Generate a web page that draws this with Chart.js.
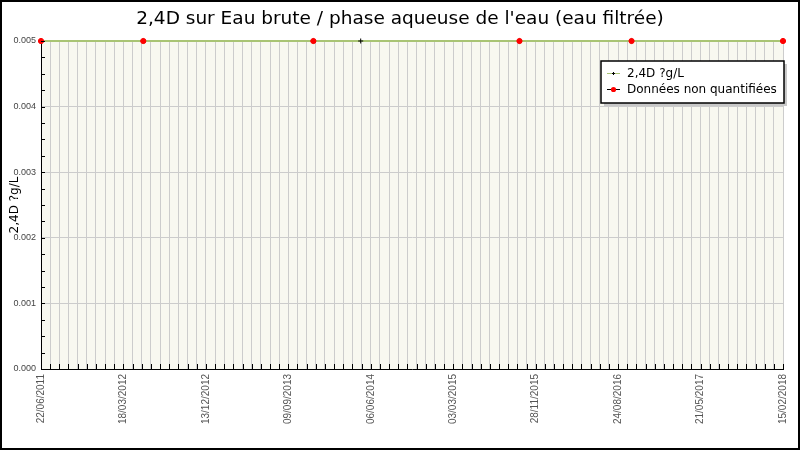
<!DOCTYPE html>
<html><head><meta charset="utf-8">
<script src="https://cdn.jsdelivr.net/npm/chart.js@4.4.1/dist/chart.umd.min.js"></script>
<style>html,body{margin:0;padding:0;background:#fff}canvas{display:block}</style>
</head><body><canvas id="c" width="800" height="450"></canvas>
<script>
const titleText = "2,4D sur Eau brute / phase aqueuse de l'eau (eau filtrée)";
const yAxisTitle = "2,4D ?g/L";
const seriesLabels = ["2,4D ?g/L", "Données non quantifiées"];
const sampleDates = ["2011-06-22","2012-05-22","2013-11-30","2014-05-04","2015-10-06","2016-10-07","2018-02-15"];
const sampleValues = [0.005,0.005,0.005,0.005,0.005,0.005,0.005];
const nqDates = ["2011-06-22","2012-05-22","2013-11-30","2015-10-06","2016-10-07","2018-02-15"];
const nqValues = [0.005,0.005,0.005,0.005,0.005,0.005];
const xStart = "2011-06-22";
const xEnd = "2018-02-15";
const xLabelStepDays = 270;
const xGridStepDays = 30;
const yMin = 0, yMax = 0.005, yStep = 0.001, yMinorStep = 0.00025;

const DAY = 86400000;
const toMs = s => { const [y,m,d] = s.split('-').map(Number); return Date.UTC(y, m-1, d); };
const fmt = ms => { const d = new Date(ms); return String(d.getUTCDate()).padStart(2,'0') + '/' + String(d.getUTCMonth()+1).padStart(2,'0') + '/' + d.getUTCFullYear(); };
const x0 = toMs(xStart), x1 = toMs(xEnd);

const LINE_GREEN = '#a9c474';

const decor = {
  id: 'decor',
  beforeDraw(chart) {
    const {ctx, chartArea: a} = chart;
    ctx.save();
    ctx.fillStyle = '#fff';
    ctx.fillRect(0, 0, chart.width, chart.height);
    ctx.fillStyle = '#f8f8f0';
    ctx.fillRect(a.left, a.top, a.right - a.left, a.bottom - a.top);
    ctx.restore();
  },
  afterDraw(chart) {
    const {ctx, chartArea: a, scales} = chart;
    const xs = scales.x, ys = scales.y;
    ctx.save();
    // title
    ctx.fillStyle = '#000';
    ctx.font = '18.5px "DejaVu Sans"';
    ctx.textAlign = 'center';
    ctx.textBaseline = 'middle';
    ctx.fillText(titleText, 400, 19);

    ctx.strokeStyle = '#000';
    ctx.lineWidth = 1;
    ctx.beginPath();
    xs.ticks.forEach(t => {
      const px = Math.round(xs.getPixelForValue(t.value)) + 0.5;
      ctx.moveTo(px, a.bottom); ctx.lineTo(px, a.bottom - 5);
    });
    for (let v = yMin; v <= yMax + 1e-9; v += yMinorStep) {
      const py = Math.round(ys.getPixelForValue(v)) + 0.5;
      ctx.moveTo(a.left, py); ctx.lineTo(a.left + 4, py);
    }
    ctx.stroke();

    // legend
    const lx = 601, ly = 61, lw = 183, lh = 42;
    ctx.fillStyle = '#c8c8c8';
    ctx.fillRect(lx + 3, ly + 3, lw, lh);
    ctx.fillStyle = '#fff';
    ctx.fillRect(lx, ly, lw, lh);
    ctx.strokeStyle = '#000';
    ctx.lineWidth = 1.5;
    ctx.strokeRect(lx, ly, lw, lh);
    ctx.font = '12px "DejaVu Sans"';
    ctx.textBaseline = 'middle';
    ctx.textAlign = 'left';
    const rows = [
      {y: 73, line: LINE_GREEN, label: chart.data.datasets[0].label, marker: 'cross'},
      {y: 89, line: '#000', label: chart.data.datasets[1].label, marker: 'dot'}
    ];
    rows.forEach(r => {
      ctx.strokeStyle = r.line; ctx.lineWidth = 1;
      ctx.beginPath(); ctx.moveTo(607, r.y + 0.5); ctx.lineTo(620, r.y + 0.5); ctx.stroke();
      if (r.marker === 'cross') {
        ctx.strokeStyle = '#000'; ctx.beginPath();
        ctx.moveTo(612, r.y + 0.5); ctx.lineTo(615, r.y + 0.5);
        ctx.moveTo(613.5, r.y - 1); ctx.lineTo(613.5, r.y + 2);
        ctx.stroke();
      } else {
        ctx.fillStyle = '#f00'; ctx.beginPath(); ctx.arc(613.5, r.y + 0.5, 2.6, 0, Math.PI*2); ctx.fill();
      }
      ctx.fillStyle = '#000';
      ctx.fillText(r.label, 627, r.y + 1);
    });

    // outer frame
    ctx.strokeStyle = '#000';
    ctx.lineWidth = 2;
    ctx.strokeRect(1, 1, chart.width - 2, chart.height - 2);
    ctx.restore();
  }
};

new Chart(document.getElementById('c'), {
  type: 'scatter',
  data: {
    datasets: [
      {
        label: seriesLabels[0],
        data: sampleDates.map((d, i) => ({x: toMs(d), y: sampleValues[i]})),
        showLine: true,
        borderColor: LINE_GREEN,
        borderWidth: 2,
        pointStyle: 'cross',
        pointRadius: 2.5,
        pointBorderColor: '#000',
        pointBackgroundColor: '#000',
        pointBorderWidth: 1,
        clip: false,
        order: 1
      },
      {
        label: seriesLabels[1],
        data: nqDates.map((d, i) => ({x: toMs(d), y: nqValues[i]})),
        showLine: false,
        pointStyle: 'circle',
        pointRadius: 2.6,
        pointBackgroundColor: '#ff0000',
        pointBorderColor: '#ff0000',
        pointBorderWidth: 1,
        clip: false,
        order: 0
      }
    ]
  },
  options: {
    responsive: false,
    animation: false,
    devicePixelRatio: 1,
    layout: {padding: {left: 0, right: 11, top: 41, bottom: 0}},
    plugins: {
      legend: {display: false},
      tooltip: {enabled: false},
      title: {display: false}
    },
    scales: {
      x: {
        type: 'linear',
        min: x0, max: x1,
        afterBuildTicks: s => {
          const t = [];
          for (let v = x0; v <= x1; v += xGridStepDays * DAY) t.push({value: v});
          s.ticks = t;
        },
        afterFit: s => { s.height = 81; },
        ticks: {
          autoSkip: false,
          maxRotation: 90, minRotation: 90,
          padding: 5,
          color: '#555',
          font: {family: '"Liberation Sans"', size: 10},
          callback: v => (Math.round((v - x0) / DAY) % xLabelStepDays === 0) ? fmt(v) : ''
        },
        grid: {color: '#cccccc', lineWidth: 1, drawTicks: false},
        border: {display: true, color: '#000', width: 1}
      },
      y: {
        min: yMin, max: yMax,
        afterFit: s => { s.width = 41; },
        ticks: {
          stepSize: yStep,
          padding: 5,
          color: '#444',
          font: {family: '"Liberation Sans"', size: 9},
          callback: v => v.toFixed(3)
        },
        grid: {color: '#cccccc', lineWidth: 1, drawTicks: false},
        border: {display: true, color: '#000', width: 1},
        title: {
          display: true,
          text: yAxisTitle,
          color: '#000',
          font: {family: '"DejaVu Sans"', size: 12},
          padding: {top: 8, bottom: 0}
        }
      }
    }
  },
  plugins: [decor]
});
</script>
</body></html>
